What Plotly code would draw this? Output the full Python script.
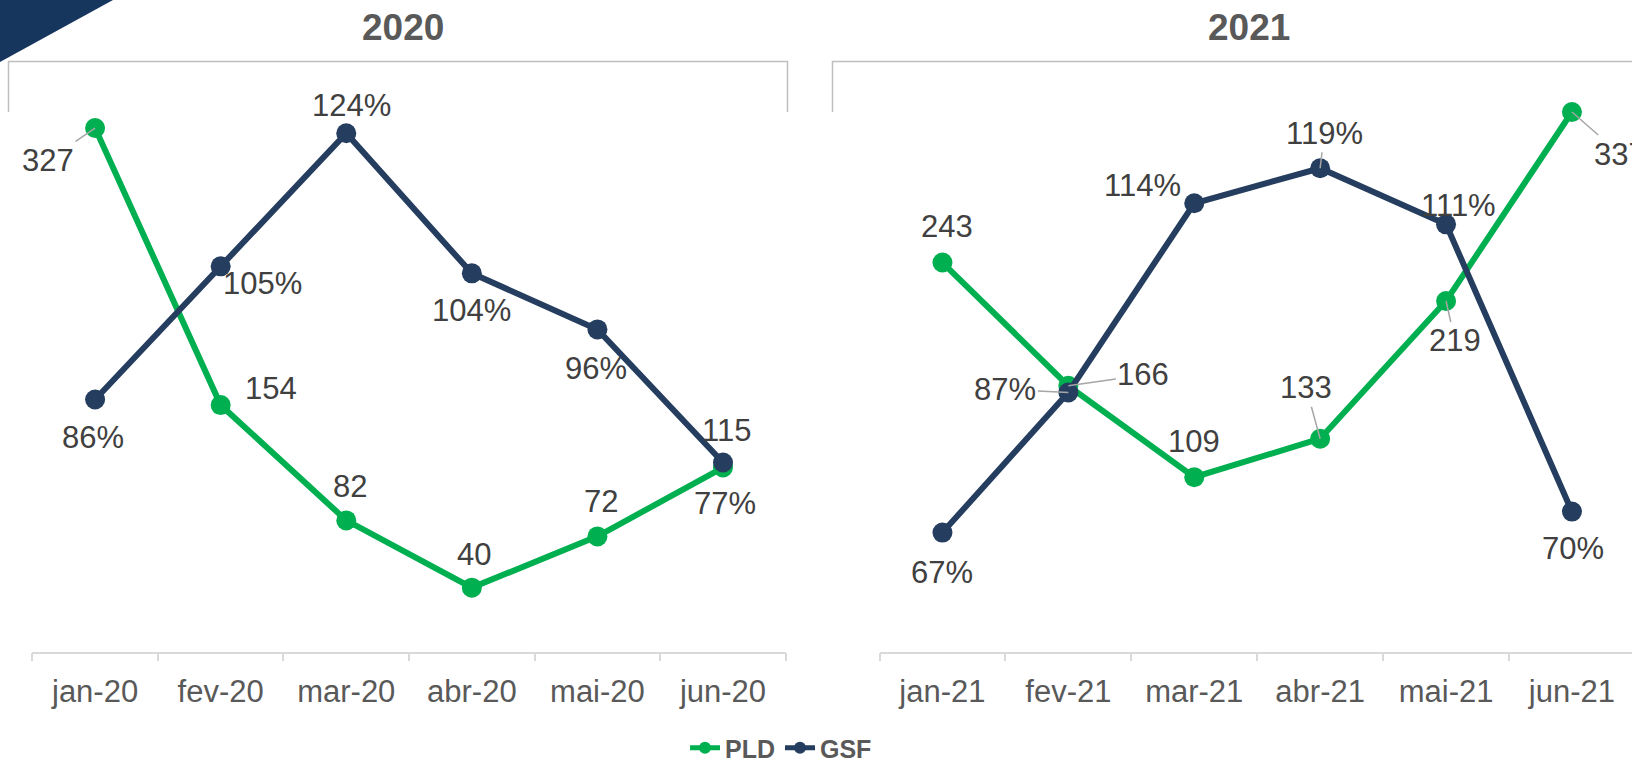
import plotly.graph_objects as go

W, H = 1632, 765

months_2020 = ["jan-20", "fev-20", "mar-20", "abr-20", "mai-20", "jun-20"]
months_2021 = ["jan-21", "fev-21", "mar-21", "abr-21", "mai-21", "jun-21"]
pld_2020 = [327, 154, 82, 40, 72, 115]
gsf_2020 = [0.86, 1.05, 1.24, 1.04, 0.96, 0.77]
pld_2021 = [243, 166, 109, 133, 219, 337]
gsf_2021 = [0.67, 0.87, 1.14, 1.19, 1.11, 0.70]

GREEN = "#00B050"
NAVY = "#253E5F"
LABEL = "#404040"
TICK = "#595959"
FONT = "Liberation Sans, Arial, sans-serif"


def px(x):
    return x / W


def py(y):
    return 1 - y / H


fig = go.Figure()

for xa, ya_p, ya_g, cats, pld, gsf, show in [
    ("x", "y", "y2", months_2020, pld_2020, gsf_2020, True),
    ("x2", "y3", "y4", months_2021, pld_2021, gsf_2021, False),
]:
    fig.add_trace(go.Scatter(x=cats, y=pld, name="PLD", mode="lines+markers",
                             line=dict(color=GREEN, width=6),
                             marker=dict(color=GREEN, size=20),
                             xaxis=xa, yaxis=ya_p, showlegend=show, legendrank=1))
    fig.add_trace(go.Scatter(x=cats, y=gsf, name="GSF", mode="lines+markers",
                             line=dict(color=NAVY, width=6),
                             marker=dict(color=NAVY, size=20),
                             xaxis=xa, yaxis=ya_g, showlegend=show, legendrank=2))

# label offsets (dx, dy in px, dy positive = down), leader flag
off_pld_2020 = [(-47, 32, True), (50, -17, False), (4, -34, False), (2, -33, False), (4, -35, False), (3, -37, False)]
off_gsf_2020 = [(-2, 38, False), (42, 17, False), (5, -28, False), (0, 37, False), (-1, 39, False), (2, 41, False)]
off_pld_2021 = [(5, -36, False), (75, -11, True), (0, -36, False), (-14, -51, True), (9, 40, True), (48, 42, True)]
off_gsf_2021 = [(0, 40, False), (-63, -3, True), (-52, -18, False), (4, -35, True), (12, -19, False), (1, 37, False)]

annotations = []


def add_labels(cats, vals, offs, xref, yref, fmt):
    for c, v, (dx, dy, lead) in zip(cats, vals, offs):
        txt = fmt(v)
        if lead:
            annotations.append(dict(x=c, y=v, xref=xref, yref=yref, text=txt,
                                    showarrow=True, ax=dx, ay=dy, arrowhead=0,
                                    arrowwidth=1.5, arrowcolor="#A6A6A6", standoff=0,
                                    font=dict(size=31, color=LABEL, family=FONT)))
        else:
            annotations.append(dict(x=c, y=v, xref=xref, yref=yref, text=txt,
                                    showarrow=False, xshift=dx, yshift=-dy,
                                    font=dict(size=31, color=LABEL, family=FONT)))


add_labels(months_2020, pld_2020, off_pld_2020, "x", "y", lambda v: f"{v}")
add_labels(months_2020, gsf_2020, off_gsf_2020, "x", "y2", lambda v: f"{v:.0%}")
add_labels(months_2021, pld_2021, off_pld_2021, "x2", "y3", lambda v: f"{v}")
add_labels(months_2021, gsf_2021, off_gsf_2021, "x2", "y4", lambda v: f"{v:.0%}")

for t, xc in [("2020", 403), ("2021", 1249)]:
    annotations.append(dict(text=f"<b>{t}</b>", x=px(xc), y=py(28), xref="paper", yref="paper",
                            showarrow=False, xanchor="center", yanchor="middle",
                            font=dict(size=37, color=TICK, family=FONT)))

shapes = [
    dict(type="path", xref="paper", yref="paper",
         path=f"M 0 1 L {px(113)} 1 L 0 {py(62)} Z",
         fillcolor="#17365D", line=dict(width=0)),
    dict(type="path", xref="paper", yref="paper",
         path=f"M {px(8.5)} {py(112)} L {px(8.5)} {py(61.5)} L {px(787.5)} {py(61.5)} L {px(787.5)} {py(112)}",
         line=dict(color="#BFBFBF", width=1.5)),
    dict(type="path", xref="paper", yref="paper",
         path=f"M {px(832.5)} {py(112)} L {px(832.5)} {py(61.5)} L {px(1640)} {py(61.5)}",
         line=dict(color="#BFBFBF", width=1.5)),
]

ydom = [py(651.7), py(91.2)]
xcommon = dict(type="category", showgrid=False, zeroline=False, showline=True,
               linecolor="#D9D9D9", linewidth=1.5, ticks="outside", tickson="boundaries",
               ticklen=8, tickcolor="#D9D9D9", tickwidth=1.5,
               tickfont=dict(size=31, color=TICK, family=FONT), ticklabelstandoff=11)
yhidden = dict(showgrid=False, zeroline=False, showline=False, showticklabels=False, ticks="")

fig.update_layout(
    width=W, height=H, margin=dict(l=0, r=0, t=0, b=0, autoexpand=False),
    paper_bgcolor="white", plot_bgcolor="white",
    font=dict(family=FONT),
    xaxis=dict(domain=[px(32.3), px(785.8)], range=[-0.5, 5.5], anchor="y", **xcommon),
    xaxis2=dict(domain=[px(879.5), 1.0], range=[-0.5, 5.477], anchor="y3", **xcommon),
    yaxis=dict(domain=ydom, range=[0, 350], anchor="x", **yhidden),
    yaxis2=dict(domain=ydom, range=[0.5, 1.3], overlaying="y", side="right", anchor="x", **yhidden),
    yaxis3=dict(domain=ydom, range=[0, 350], anchor="x2", **yhidden),
    yaxis4=dict(domain=ydom, range=[0.5, 1.3], overlaying="y3", side="right", anchor="x2", **yhidden),
    legend=dict(orientation="h", x=px(781), xanchor="center", y=py(748), yanchor="middle",
                font=dict(size=25, color=TICK, family=FONT, weight="bold"), itemsizing="constant",
                traceorder="normal", itemwidth=30, bgcolor="rgba(0,0,0,0)"),
    annotations=annotations,
    shapes=shapes,
)

post = (
    "document.documentElement.style.margin='0px';"
    "document.documentElement.style.overflow='hidden';"
    "document.body.style.margin='0px';"
    "document.body.style.overflow='hidden';"
    "document.querySelectorAll('div').forEach(function(d){d.style.display='block';});"
)
fig.write_html("out.html", config={"displayModeBar": False}, post_script=post)
